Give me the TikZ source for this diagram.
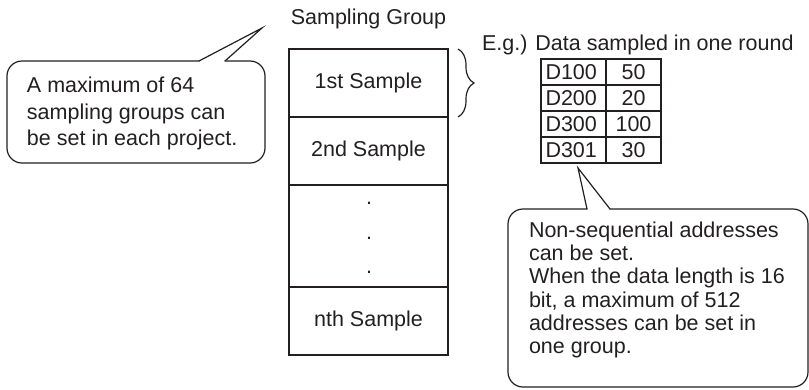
\documentclass[tikz,border=0pt]{standalone}
\usepackage{fontspec}
\setmainfont{Liberation Sans}
\usetikzlibrary{positioning,decorations.pathreplacing}
\definecolor{inkgray}{HTML}{231F20}
\begin{document}
\begin{tikzpicture}[x=1pt,y=-1pt,line width=1.2pt,color=inkgray,
  every node/.style={font=\fontsize{21.5}{26.5}\selectfont,inner sep=0pt,outer sep=0pt},
  samplecell/.style={draw,minimum width=159pt,minimum height=68pt},
  addrcell/.style={draw,minimum width=65pt,minimum height=26pt,text width=56pt,align=left},
  valcell/.style={draw,minimum width=55pt,minimum height=26pt}]
 \useasboundingbox (0,0) rectangle (809,389);
 % sampling group column
 \node[anchor=base] (grouplabel) at (368.5,24) {Sampling Group};
 \node[samplecell,anchor=north west] (first) at (289,49) {1st Sample};
 \node[samplecell,below=0pt of first] (second) {2nd Sample};
 \node[samplecell,minimum height=102pt,below=0pt of second] (middle) {};
 \node[samplecell,below=0pt of middle] (nth) {nth Sample};
 \foreach \y/\n in {204/a,239/b,273.5/c}
  \node[anchor=base] (dot\n) at (369,\y) {.};
 \draw[decorate,decoration={brace,amplitude=16pt}] (458,49) -- (458,117);
 % one round of data
 \node[anchor=base west] (eglabel) at (482,50) {E.g.) Data sampled in one round};
 \foreach \a/\v [count=\i] in {D100/50,D200/20,D300/100,D301/30} {
  \node[addrcell,anchor=north west] (addr\i) at (541,{59+26*(\i-1)}) {\a};
  \node[valcell,right=0pt of addr\i] (val\i) {\v};
 }
 % callouts
 \draw[rounded corners=15pt,line cap=round] (199,61) -- (7,61) -- (7,163) -- (265,163) -- (265,61) -- (225,61);
 \draw[line cap=round] (199,61) -- (262,28) -- (225,61);
 \node[anchor=north west,align=left] (maxnote) at (27,77) {A maximum of 64\\sampling groups can\\be set in each project.};
 \draw[rounded corners=15pt,line cap=round] (587,209) -- (508,209) -- (508,387) -- (808,387) -- (808,209) -- (610,209);
 \draw[line cap=round] (587,209) -- (578,168) -- (610,209);
 \node[anchor=north west,align=left,font=\fontsize{21.5}{23.2}\selectfont] (addrnote) at (529,222)
  {Non-sequential addresses\\can be set.\\When the data length is 16\\bit, a maximum of 512\\addresses can be set in\\one group.};
\end{tikzpicture}
\end{document}
